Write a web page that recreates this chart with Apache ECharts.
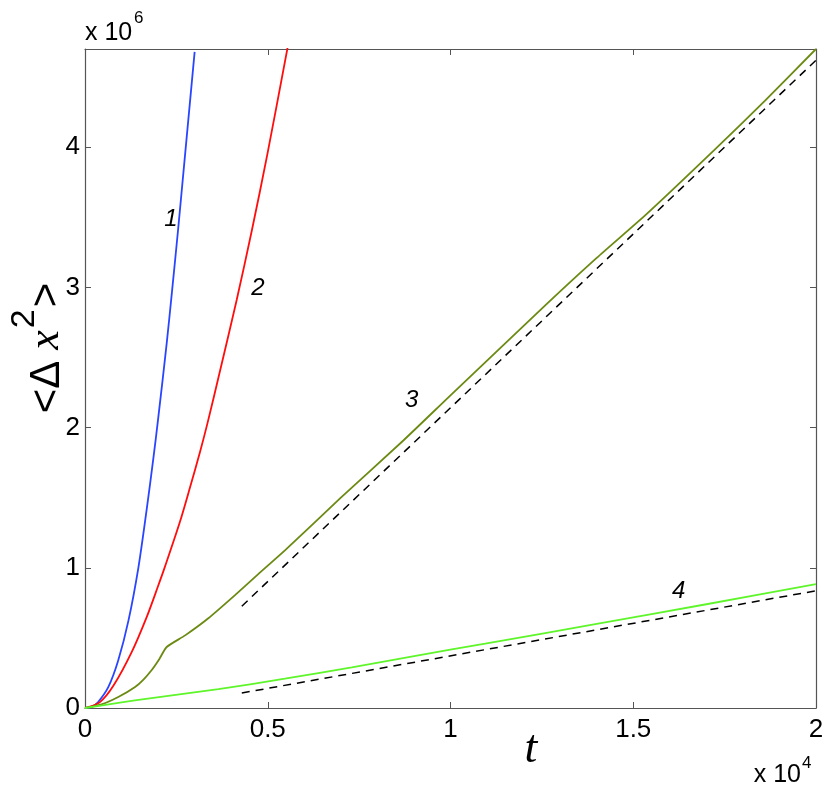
<!DOCTYPE html>
<html>
<head>
<meta charset="utf-8">
<script src="https://cdn.jsdelivr.net/npm/echarts@6/dist/echarts.min.js"></script>
<style>
html, body { margin: 0; padding: 0; background: #fff; }
#chart-show { width: 830px; height: 785px; }
</style>
</head>
<body>
<div id="chart-show"></div>
<script>
// t in units of 1e4, <dx^2> in units of 1e6
var t1 = [0, 0.018, 0.036, 0.064, 0.091, 0.119, 0.146, 0.169, 0.187, 0.200, 0.2235, 0.238, 0.255, 0.270, 0.285, 0.300];
var msd1 = [0, 0.008, 0.043, 0.150, 0.340, 0.625, 1.0, 1.42, 1.78, 2.06, 2.60, 2.97, 3.42, 3.84, 4.26, 4.68];

var t2 = [0, 0.04, 0.078, 0.128, 0.169, 0.200, 0.219, 0.260, 0.287, 0.315, 0.335, 0.369, 0.415, 0.456, 0.499, 0.555];
var msd2 = [0, 0.04, 0.160, 0.40, 0.65, 0.87, 1.01, 1.33, 1.57, 1.83, 2.03, 2.40, 2.91, 3.40, 3.95, 4.72];

var t3 = [0, 0.0456, 0.091, 0.137, 0.160, 0.182, 0.2035, 0.2235, 0.274, 0.3375, 0.4105, 0.474, 0.547, 0.70, 0.871, 1.0, 1.2635, 1.40, 1.537, 1.72, 1.86, 2.0];
var msd3 = [0, 0.026, 0.078, 0.150, 0.203, 0.269, 0.350, 0.435, 0.518, 0.640, 0.805, 0.955, 1.124, 1.50, 1.908, 2.23, 2.882, 3.21, 3.524, 3.975, 4.33, 4.70];

var t4 = [0, 0.091, 0.182, 0.365, 0.547, 0.730, 0.912, 1.095, 1.4, 1.7, 2.0];
var msd4 = [0, 0.036, 0.071, 0.134, 0.209, 0.290, 0.376, 0.459, 0.60, 0.74, 0.883];

// dashed guide lines
var tFit3 = [0.429, 2.0];
var msdFit3 = [0.726, 4.62];
var tFit4 = [0.429, 2.0];
var msdFit4 = [0.107, 0.836];

var yTickLabels = ['0', '1', '2', '3', '4'];

// curve numbers and where they sit (data coords)
var curveNames = ['1', '2', '3', '4'];
var curveLabelPos = [[0.235, 3.487], [0.4734, 2.995], [0.8935, 2.193], [1.6243, 0.835]];

function pts(ts, vs) {
    return ts.map(function (t, i) { return [t, vs[i]]; });
}

var axisGray = '#555';
var tickFont = 'Liberation Sans';

function curveLabel(i) {
    return {
        symbol: 'circle',
        symbolSize: 1,
        itemStyle: { color: 'rgba(0,0,0,0)' },
        label: {
            show: true, position: 'inside', formatter: curveNames[i],
            color: '#000', fontSize: 24, fontStyle: 'italic', fontFamily: tickFont
        },
        data: [{ coord: curveLabelPos[i] }],
        silent: true
    };
}

function curve(ts, vs, color, i, smooth) {
    return {
        type: 'line', data: pts(ts, vs), showSymbol: false, smooth: smooth,
        lineStyle: { color: color, width: 1.8 }, itemStyle: { color: color },
        markPoint: curveLabel(i), z: 3
    };
}

function fitLine(ts, vs) {
    return {
        type: 'line', data: pts(ts, vs), showSymbol: false,
        lineStyle: { color: '#000', width: 1.5, type: [8, 6] }, z: 2
    };
}

function xAx(pos, labels) {
    return {
        type: 'value', min: 0, max: 2, interval: 0.5, position: pos,
        axisLine: { onZero: false, lineStyle: { color: axisGray, width: 1.2 } },
        axisTick: { inside: true, length: 6, lineStyle: { color: axisGray } },
        axisLabel: { show: labels, color: '#000', fontSize: 26, fontFamily: tickFont, margin: 9 },
        splitLine: { show: false }
    };
}

function yAx(pos, labels) {
    return {
        type: 'value', min: 0, max: 4.7, interval: 1, position: pos,
        axisLine: { show: true, onZero: false, lineStyle: { color: axisGray, width: 1.2 } },
        axisTick: { show: true, inside: true, length: 6, lineStyle: { color: axisGray } },
        axisLabel: {
            show: labels, color: '#000', fontSize: 26, fontFamily: tickFont, margin: 5,
            formatter: function (v) { return yTickLabels.indexOf(String(v)) >= 0 ? String(v) : ''; }
        },
        splitLine: { show: false }
    };
}

var myChart = echarts.init(document.getElementById('chart-show'));

var option = {
    animation: false,
    backgroundColor: '#fff',
    grid: { left: 85, right: 14, top: 49, bottom: 77, containLabel: false, outerBoundsMode: 'none' },
    xAxis: [xAx('bottom', true), xAx('top', false)],
    yAxis: [yAx('left', true), yAx('right', false)],
    series: [
        fitLine(tFit3, msdFit3),
        fitLine(tFit4, msdFit4),
        curve(t1, msd1, '#2a45ff', 0, 0.3),
        curve(t2, msd2, '#ff0d0d', 1, 0.3),
        curve(t3, msd3, '#6b8a12', 2, 0.2),
        curve(t4, msd4, '#5ef52a', 3, 0.2)
    ],
    graphic: [{
        type: 'text', x: 38, y: 348, rotation: Math.PI / 2,
        style: {
            text: '{a|<}{d|Δ}{x| x}{s|2}{a|>}',
            align: 'center', verticalAlign: 'middle',
            rich: {
                a: { fontSize: 42, fontFamily: tickFont, verticalAlign: 'bottom', fill: '#000' },
                d: { fontSize: 42, fontFamily: tickFont, verticalAlign: 'bottom', fill: '#000' },
                x: { fontSize: 44, fontFamily: 'Liberation Serif', fontStyle: 'italic', verticalAlign: 'bottom', fill: '#000' },
                s: { fontSize: 34, fontFamily: tickFont, verticalAlign: 'bottom', padding: [0, 2, 26, 2], fill: '#000' }
            }
        }
    }, {
        type: 'text', x: 531, y: 750,
        style: {
            text: 't', fontSize: 46, fontFamily: 'Liberation Serif', fontStyle: 'italic',
            fill: '#000', align: 'center', verticalAlign: 'middle'
        }
    }, {
        type: 'text', x: 85, y: 33,
        style: { text: 'x 10', fontSize: 25, fontFamily: tickFont, fill: '#000', align: 'left', verticalAlign: 'middle' }
    }, {
        type: 'text', x: 134, y: 18,
        style: { text: '6', fontSize: 17, fontFamily: tickFont, fill: '#000', align: 'left', verticalAlign: 'middle' }
    }, {
        type: 'text', x: 801, y: 775,
        style: { text: 'x 10', fontSize: 25, fontFamily: tickFont, fill: '#000', align: 'right', verticalAlign: 'middle' }
    }, {
        type: 'text', x: 802, y: 763,
        style: { text: '4', fontSize: 17, fontFamily: tickFont, fill: '#000', align: 'left', verticalAlign: 'middle' }
    }]
};

myChart.setOption(option);
setTimeout(function () {
    window.onresize = function () {
        myChart.resize();
    };
}, 200);
</script>
</body>
</html>
